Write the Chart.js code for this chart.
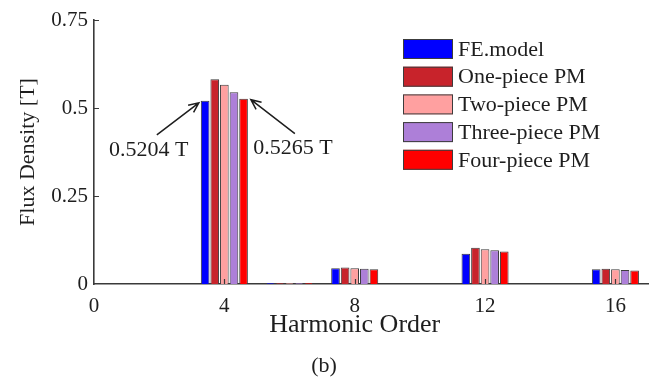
<!DOCTYPE html>
<html>
<head>
<meta charset="utf-8">
<script src="https://cdn.jsdelivr.net/npm/chart.js@4/dist/chart.umd.min.js"></script>
<style>
  html, body { margin: 0; padding: 0; background: #ffffff; }
  #wrap { width: 655px; height: 383px; }
</style>
</head>
<body>
<div id="wrap"><canvas id="chart" width="655" height="383"></canvas></div>
<script>
// Harmonic orders and flux density amplitudes [T]
const harmonics  = [4, 6, 8, 12, 16];
const feModel    = [0.5204, 0.003, 0.045, 0.086, 0.042];
const onePiece   = [0.582, 0.003, 0.047, 0.103, 0.0435];
const twoPiece   = [0.566, 0.003, 0.045, 0.099, 0.042];
const threePiece = [0.545, 0.003, 0.043, 0.096, 0.040];
const fourPiece  = [0.5265, 0.003, 0.042, 0.092, 0.038];

const seriesNames  = ['FE.model', 'One-piece PM', 'Two-piece PM', 'Three-piece PM', 'Four-piece PM'];
const seriesColors = ['#0000ff', '#c8232b', '#ffa0a0', '#ad7fd8', '#ff0000'];
const seriesValues = [feModel, onePiece, twoPiece, threePiece, fourPiece];

const xTicks = [0, 4, 8, 12, 16];
const yTicks = [0, 0.25, 0.5, 0.75];
const xTitle = 'Harmonic Order';

const SERIF = '"Liberation Serif", "Times New Roman", serif';
const INK = '#1e1e1e';
const AXIS = '#3a3a3a';

const datasets = seriesValues.map((vals, i) => ({
  label: seriesNames[i],
  data: harmonics.map((h, j) => ({ x: h, y: vals[j] })),
  backgroundColor: seriesColors[i],
  borderColor: '#3c3c3c',
  borderWidth: 1,
  categoryPercentage: 0.7365,
  barPercentage: 0.9
}));

// Inward tick marks on both axes, drawn over the bars
const innerTicks = {
  id: 'innerTicks',
  afterDatasetsDraw(chart) {
    const { ctx, scales: { x, y } } = chart;
    ctx.save();
    ctx.strokeStyle = AXIS;
    ctx.lineWidth = 1.2;
    ctx.beginPath();
    xTicks.forEach(v => {
      if (v === 0) return;
      const px = Math.round(x.getPixelForValue(v)) + 0.5;
      ctx.moveTo(px, y.bottom);
      ctx.lineTo(px, y.bottom - 5);
    });
    yTicks.forEach(v => {
      if (v === 0) return;
      const py = Math.round(y.getPixelForValue(v)) + 0.5;
      ctx.moveTo(x.left, py);
      ctx.lineTo(x.left + 5, py);
    });
    ctx.stroke();
    ctx.restore();
  }
};

// Value call-outs with arrows pointing at the fundamental-order bars
function arrow(ctx, x0, y0, x1, y1) {
  const ang = Math.atan2(y1 - y0, x1 - x0);
  const head = 11, spread = 0.42;
  ctx.beginPath();
  ctx.moveTo(x0, y0);
  ctx.lineTo(x1, y1);
  ctx.moveTo(x1 - head * Math.cos(ang - spread), y1 - head * Math.sin(ang - spread));
  ctx.lineTo(x1, y1);
  ctx.lineTo(x1 - head * Math.cos(ang + spread), y1 - head * Math.sin(ang + spread));
  ctx.stroke();
}

const callouts = {
  id: 'callouts',
  afterDatasetsDraw(chart) {
    const { ctx } = chart;
    const idx = harmonics.indexOf(4);
    const first = chart.getDatasetMeta(0).data[idx];
    const last = chart.getDatasetMeta(4).data[idx];
    ctx.save();
    ctx.strokeStyle = INK;
    ctx.fillStyle = INK;
    ctx.lineWidth = 1.5;
    ctx.font = '22px ' + SERIF;
    ctx.textAlign = 'center';
    ctx.textBaseline = 'middle';

    const lx = first.x - first.width / 2 - 2, ly = first.y + 2;
    arrow(ctx, lx - 42, ly + 32, lx, ly);
    ctx.fillText(feModel[idx].toFixed(4) + ' T', lx - 50, ly + 47);

    const rx = last.x + last.width / 2 + 3, ry = last.y + 1;
    arrow(ctx, rx + 44, ry + 34, rx, ry);
    ctx.fillText(fourPiece[idx].toFixed(4) + ' T', rx + 42, ry + 49);
    ctx.restore();
  }
};

// Horizontal axis title, centred under the labelled tick range
const xAxisTitle = {
  id: 'xAxisTitle',
  afterDraw(chart) {
    const { ctx, scales: { x } } = chart;
    const mid = x.getPixelForValue((xTicks[0] + xTicks[xTicks.length - 1]) / 2);
    ctx.save();
    ctx.font = '26px ' + SERIF;
    ctx.fillStyle = INK;
    ctx.textAlign = 'center';
    ctx.textBaseline = 'middle';
    ctx.fillText(xTitle, mid, x.bottom - 27);
    ctx.restore();
  }
};

// Legend box inside the plot, upper right
const insideLegend = {
  id: 'insideLegend',
  afterDraw(chart) {
    const { ctx } = chart;
    const bx = 403, by = 39, bw = 50, bh = 20, step = 27.7;
    ctx.save();
    ctx.font = '22px ' + SERIF;
    ctx.textAlign = 'left';
    ctx.textBaseline = 'middle';
    chart.data.datasets.forEach((ds, i) => {
      const top = by + i * step;
      ctx.fillStyle = ds.backgroundColor;
      ctx.fillRect(bx, top, bw, bh);
      ctx.strokeStyle = '#3c3c3c';
      ctx.lineWidth = 1;
      ctx.strokeRect(bx + 0.5, top + 0.5, bw - 1, bh - 1);
      ctx.fillStyle = INK;
      ctx.fillText(ds.label, bx + bw + 5, top + bh / 2 + 1);
    });
    ctx.restore();
  }
};

new Chart(document.getElementById('chart'), {
  type: 'bar',
  data: { datasets },
  options: {
    responsive: false,
    animation: false,
    layout: { padding: { top: 20, right: 7, left: 0, bottom: 0 } },
    plugins: {
      legend: { display: false },
      tooltip: { enabled: false },
      title: {
        display: true,
        position: 'bottom',
        text: '(b)',
        color: INK,
        font: { family: SERIF, size: 22, weight: 'normal' },
        padding: { top: 0, bottom: 4 }
      }
    },
    scales: {
      x: {
        type: 'linear',
        min: 0,
        max: 17,
        offset: false,
        afterBuildTicks(scale) { scale.ticks = xTicks.map(v => ({ value: v })); },
        afterFit(scale) { scale.height = 68.6; },
        grid: { display: false, drawTicks: false },
        border: { display: true, color: AXIS, width: 1.6 },
        ticks: {
          color: INK,
          padding: 10,
          maxRotation: 0,
          font: { family: SERIF, size: 21 }
        },
        title: { display: false, text: xTitle }
      },
      y: {
        min: 0,
        max: 0.75,
        afterBuildTicks(scale) { scale.ticks = yTicks.map(v => ({ value: v })); },
        afterFit(scale) { scale.width = 94; },
        grid: { display: false, drawTicks: false },
        border: { display: true, color: AXIS, width: 1.6 },
        ticks: {
          color: INK,
          padding: 6,
          font: { family: SERIF, size: 21 },
          callback: v => String(v)
        },
        title: {
          display: true,
          text: 'Flux Density [T]',
          color: INK,
          font: { family: SERIF, size: 22 },
          padding: { top: 14.8, bottom: 0 }
        }
      }
    }
  },
  plugins: [innerTicks, callouts, xAxisTitle, insideLegend]
});
</script>
</body>
</html>
